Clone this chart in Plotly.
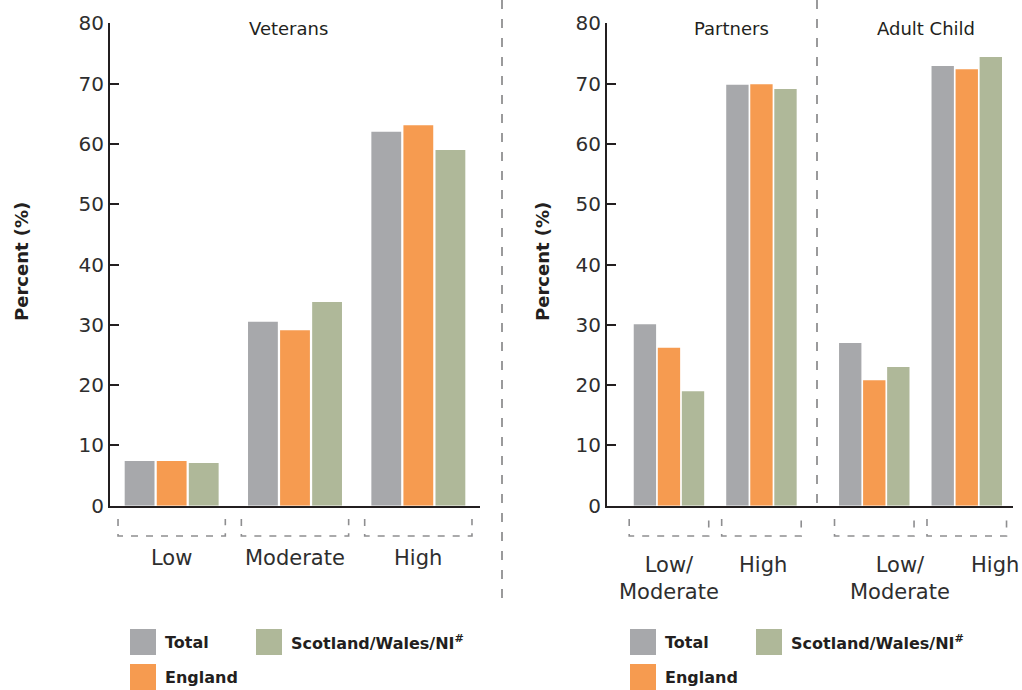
import plotly.graph_objects as go

# ---- data -------------------------------------------------------------
series_names = ["Total", "England", "Scotland/Wales/NI"]
series_colors = ["#a7a8ab", "#f69b50", "#afb899"]

y_ticks = [0, 10, 20, 30, 40, 50, 60, 70, 80]

vet_levels = ["Low", "Moderate", "High"]
vet_total = [7.4, 30.5, 62.0]
vet_england = [7.4, 29.1, 63.1]
vet_snw = [7.1, 33.8, 59.0]

fam_levels = ["Low/<br>Moderate", "High"]
partner_total = [30.1, 69.8]
partner_england = [26.2, 69.9]
partner_snw = [19.0, 69.1]
child_total = [27.0, 72.9]
child_england = [20.8, 72.4]
child_snw = [23.0, 74.4]

panel_titles = ["Veterans", "Partners", "Adult Child"]
y_title = "Percent (%)"

# ---- layout helpers ----------------------------------------------------
W, H = 1022, 690
FONT = "DejaVu Sans"
INK = "#231f20"
TXT = "#2e2e2e"
DASH_GREY = "#9a9a9b"


def px(x):
    return x / W


def py(y):
    return 1 - y / H


# right panel: two groups per panel, extra gap between panels
fam_x = [0, 1, 2.22, 3.22]

fig = go.Figure()

vet_series = [vet_total, vet_england, vet_snw]
fam_series = [partner_total + child_total,
              partner_england + child_england,
              partner_snw + child_snw]

for name, color, vals in zip(series_names, series_colors, vet_series):
    fig.add_trace(go.Bar(x=vet_levels, y=vals, name=name,
                         marker=dict(color=color, line=dict(width=0)),
                         xaxis="x", yaxis="y", showlegend=False))

for name, color, vals in zip(series_names, series_colors, fam_series):
    fig.add_trace(go.Bar(x=fam_x, y=vals, name=name,
                         marker=dict(color=color, line=dict(width=0)),
                         xaxis="x2", yaxis="y2", showlegend=False))

y_dom = [py(505.7), py(23.3)]

yaxis_common = dict(
    range=[0, 80], tickvals=y_ticks, ticks="inside", ticklen=9, tickwidth=2,
    tickcolor=INK, showline=True, linecolor=INK, linewidth=2,
    showgrid=False, zeroline=False, domain=y_dom, automargin=False,
    tickfont=dict(family=FONT, size=20, color=TXT), fixedrange=True,
)
xaxis_common = dict(
    showline=True, linecolor=INK, linewidth=2, showticklabels=False,
    ticks="", showgrid=False, zeroline=False, fixedrange=True,
    automargin=False,
)

fig.update_layout(
    width=W, height=H,
    margin=dict(l=0, r=0, t=0, b=0, autoexpand=False),
    paper_bgcolor="white", plot_bgcolor="white",
    barmode="group", bargap=0.22, bargroupgap=0.07,
    showlegend=False,
    xaxis=dict(xaxis_common, domain=[px(110), px(480)], range=[-0.5, 2.5],
               anchor="y", type="category"),
    yaxis=dict(yaxis_common, anchor="x"),
    xaxis2=dict(xaxis_common, domain=[px(607), px(1013)], range=[-0.67, 3.72],
                anchor="y2"),
    yaxis2=dict(yaxis_common, anchor="x2"),
)

shapes = []
annotations = []

# dashed dividers
shapes.append(dict(type="line", xref="paper", yref="paper",
                   x0=px(502), x1=px(502), y0=py(0), y1=py(604),
                   line=dict(color=DASH_GREY, width=2, dash="9px,10px")))
shapes.append(dict(type="line", xref="paper", yref="paper",
                   x0=px(817), x1=px(817), y0=py(0), y1=py(503),
                   line=dict(color=DASH_GREY, width=2, dash="9px,10px")))

# dashed brackets under each category group
br_top, br_bot = py(519), py(536)


def bracket(xref, c, half):
    return dict(type="path", xref=xref, yref="paper",
                path=(f"M {c - half},{br_top} L {c - half},{br_bot} "
                      f"L {c + half},{br_bot} L {c + half},{br_top}"),
                line=dict(color="#8e8e90", width=1.6, dash="7px,8px"))


for i in range(len(vet_levels)):
    shapes.append(bracket("x", i, 0.435))
for c in fam_x:
    shapes.append(bracket("x2", c, 0.43))

# category labels
for i, lab in enumerate(vet_levels):
    annotations.append(dict(xref="x", yref="paper", x=i, y=py(558),
                            text=lab, showarrow=False, xanchor="center",
                            yanchor="middle",
                            font=dict(family=FONT, size=21, color=TXT)))
fam_shift = [0, 2, 26, 28]
for c, lab, sh in zip(fam_x, fam_levels * 2, fam_shift):
    annotations.append(dict(xref="x2", yref="paper", x=c, y=py(551),
                            text=lab, showarrow=False, xanchor="center",
                            yanchor="top", xshift=sh,
                            font=dict(family=FONT, size=21, color=TXT)))

# panel titles
for title, xc in zip(panel_titles, [288, 731, 926]):
    annotations.append(dict(xref="paper", yref="paper", x=px(xc), y=py(28),
                            text=title, showarrow=False, xanchor="center",
                            yanchor="middle",
                            font=dict(family=FONT, size=18, color=INK)))

# y-axis titles
for xc in [22, 543]:
    annotations.append(dict(xref="paper", yref="paper", x=px(xc), y=py(262),
                            text=f"<b>{y_title}</b>", showarrow=False,
                            textangle=-90, xanchor="center", yanchor="middle",
                            font=dict(family=FONT, size=18, color=INK)))

# legends (one under each panel)
legend_slots = [(0, 0), (0, 1), (1, 0)]  # (column, row) for each series
for x0, x1col in [(130, 256), (630, 756)]:
    for (col, row), name, color in zip(legend_slots, series_names,
                                       series_colors):
        sx = x0 if col == 0 else x1col
        sy = 629 if row == 0 else 664
        shapes.append(dict(type="rect", xref="paper", yref="paper",
                           x0=px(sx), x1=px(sx + 26), y0=py(sy),
                           y1=py(sy + 26), fillcolor=color,
                           line=dict(width=0)))
        label = name + ("<sup>#</sup>" if col == 1 else "")
        annotations.append(dict(xref="paper", yref="paper", x=px(sx + 33),
                                y=py(sy + 13), text=f"<b>{label}</b>",
                                showarrow=False, xanchor="left",
                                yanchor="middle",
                                font=dict(family=FONT, size=16, color=INK)))

fig.update_layout(shapes=shapes, annotations=annotations)

fig.write_html("out.html")
